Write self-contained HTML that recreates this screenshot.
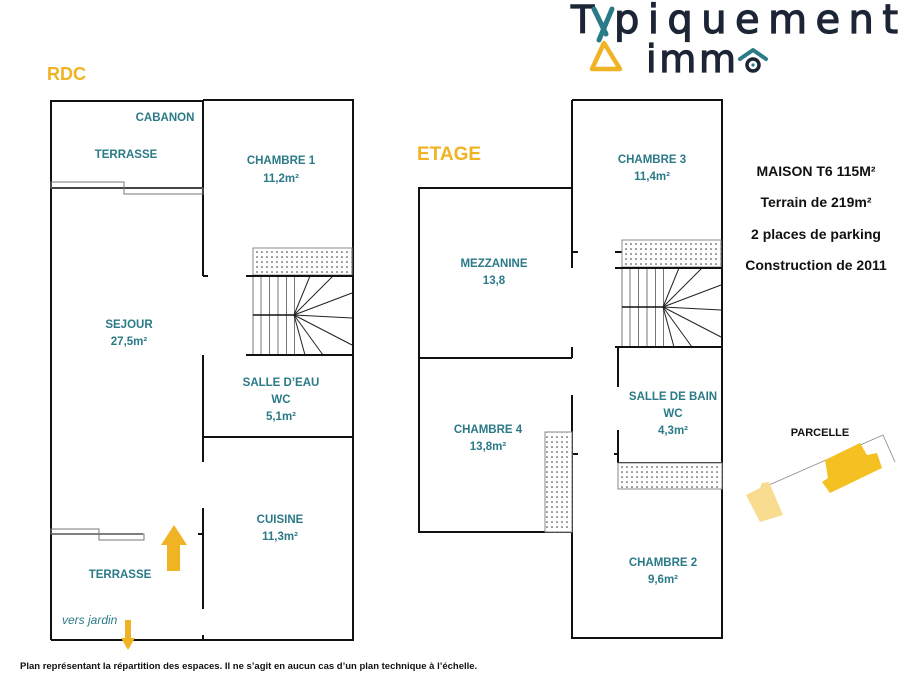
<!DOCTYPE html>
<html><head><meta charset="utf-8"><style>
html,body{margin:0;padding:0;background:#fff;}
svg{display:block;}
text{font-family:"Liberation Sans",sans-serif;}
.t{fill:#2b7a87;font-weight:bold;font-size:11.5px;text-anchor:middle;}
.k{fill:#111;font-weight:bold;font-size:14px;text-anchor:middle;}
.lg{font-family:"DejaVu Sans",sans-serif;fill:#1c2536;stroke:#1c2536;stroke-width:1.2;}
</style></head><body>
<svg width="902" height="678" viewBox="0 0 902 678" xmlns="http://www.w3.org/2000/svg">
<defs>
<pattern id="dots" width="5" height="5" patternUnits="userSpaceOnUse"><rect width="5" height="5" fill="#fff"/><circle cx="2" cy="2" r="0.8" fill="#333"/></pattern>
<g id="stairs">
<rect x="253" y="248" width="99" height="27" fill="url(#dots)" stroke="#888" stroke-width="1"/>
<g stroke="#777" stroke-width="1">
<line x1="253" y1="276" x2="253" y2="355"/><line x1="261" y1="276" x2="261" y2="355"/><line x1="269.5" y1="276" x2="269.5" y2="355"/><line x1="278" y1="276" x2="278" y2="355"/><line x1="286.5" y1="276" x2="286.5" y2="355"/><line x1="294.5" y1="276" x2="294.5" y2="355"/>
</g>
<g stroke="#222" stroke-width="1">
<line x1="294" y1="315" x2="310" y2="276"/><line x1="294" y1="315" x2="333" y2="276"/><line x1="294" y1="315" x2="352" y2="293"/><line x1="294" y1="315" x2="352" y2="318"/><line x1="294" y1="315" x2="352" y2="345"/><line x1="294" y1="315" x2="323" y2="355"/><line x1="294" y1="315" x2="305" y2="355"/>
</g>
<line x1="253" y1="315" x2="294" y2="315" stroke="#111" stroke-width="1.5"/>
<line x1="246" y1="276" x2="353" y2="276" stroke="#111" stroke-width="2"/>
<line x1="246" y1="355" x2="353" y2="355" stroke="#111" stroke-width="2"/>
</g>
</defs>

<!-- Logo -->
<text class="lg" x="571" y="33" font-size="38">T</text>
<text class="lg" x="614" y="33" font-size="40" textLength="284" lengthAdjust="spacing">piquement</text>
<line x1="594" y1="9" x2="606" y2="34" stroke="#2b7a87" stroke-width="5" stroke-linecap="round"/>
<line x1="612" y1="9" x2="599" y2="40" stroke="#2b7a87" stroke-width="5" stroke-linecap="round"/>
<polygon points="604,43 620,69 592,69" fill="none" stroke="#f0b323" stroke-width="4.5" stroke-linejoin="round"/>
<text class="lg" x="646" y="72" font-size="38" textLength="90" lengthAdjust="spacing">imm</text>
<polyline points="740,59 753,50 766,59" fill="none" stroke="#2b7a87" stroke-width="4" stroke-linecap="round" stroke-linejoin="round"/>
<circle cx="753" cy="65" r="6" fill="none" stroke="#1c2536" stroke-width="3.5"/>
<circle cx="753" cy="65" r="1.6" fill="#2b7a87"/>

<text x="47" y="80" font-size="18" font-weight="bold" fill="#f0b323">RDC</text>
<text x="417" y="160" font-size="19" font-weight="bold" fill="#f0b323">ETAGE</text>

<!-- RDC walls -->
<g stroke="#111" stroke-width="2" fill="none">
<polyline points="51,640 51,101 203,101"/>
<polyline points="203,100 353,100 353,640 51,640"/>
<line x1="203" y1="101" x2="203" y2="276"/>
<line x1="203" y1="355" x2="203" y2="462"/>
<line x1="203" y1="508" x2="203" y2="609"/>
<line x1="203" y1="635" x2="203" y2="640"/>
<line x1="203" y1="276" x2="208" y2="276"/>
<line x1="203" y1="437" x2="353" y2="437"/>
<line x1="51" y1="188" x2="203" y2="188"/>
<line x1="51" y1="534" x2="143" y2="534" stroke-width="1.5"/>
<line x1="198" y1="534" x2="203" y2="534"/>
</g>
<g stroke="#777" stroke-width="1" fill="none">
<rect x="51" y="182" width="73" height="6"/>
<rect x="124" y="188" width="79" height="6"/>
<rect x="51" y="529" width="48" height="5"/>
<rect x="99" y="534" width="45" height="6"/>
</g>
<use href="#stairs"/>

<!-- arrows -->
<polygon points="174,525 187,545 180,545 180,571 167,571 167,545 161,545" fill="#f0b323"/>
<polygon points="125,620 131,620 131,638 135,638 128,650 121,638 125,638" fill="#f0b323"/>

<!-- ETAGE walls -->
<g stroke="#111" stroke-width="2" fill="none">
<polyline points="572,100 722,100 722,638 572,638 572,395"/>
<line x1="572" y1="100" x2="572" y2="268"/>
<line x1="572" y1="347" x2="572" y2="358"/>
<polyline points="572,188 419,188 419,532 572,532"/>
<line x1="419" y1="358" x2="572" y2="358"/>
<line x1="572" y1="252" x2="578" y2="252"/>
<line x1="615" y1="252" x2="622" y2="252"/>
<line x1="572" y1="454" x2="578" y2="454"/>
<line x1="614" y1="454" x2="618" y2="454"/>
<line x1="618" y1="348" x2="618" y2="387"/>
<line x1="618" y1="430" x2="618" y2="463"/>
<line x1="618" y1="463" x2="722" y2="463"/>
</g>
<rect x="545" y="432" width="27" height="100" fill="url(#dots)" stroke="#888"/>
<rect x="618" y="463" width="104" height="26" fill="url(#dots)" stroke="#888"/>
<use href="#stairs" transform="translate(369,-8)"/>

<!-- Labels RDC -->
<text class="t" x="165" y="121">CABANON</text>
<text class="t" x="126" y="158">TERRASSE</text>
<text class="t" x="281" y="164">CHAMBRE 1</text>
<text class="t" x="281" y="182">11,2m²</text>
<text class="t" x="129" y="328">SEJOUR</text>
<text class="t" x="129" y="345">27,5m²</text>
<text class="t" x="281" y="386">SALLE D’EAU</text>
<text class="t" x="281" y="403">WC</text>
<text class="t" x="281" y="420">5,1m²</text>
<text class="t" x="280" y="523">CUISINE</text>
<text class="t" x="280" y="540">11,3m²</text>
<text class="t" x="120" y="578">TERRASSE</text>
<text x="62" y="624" font-size="12" font-style="italic" fill="#2b7a87">vers jardin</text>

<!-- Labels ETAGE -->
<text class="t" x="652" y="163">CHAMBRE 3</text>
<text class="t" x="652" y="180">11,4m²</text>
<text class="t" x="494" y="267">MEZZANINE</text>
<text class="t" x="494" y="284">13,8</text>
<text class="t" x="488" y="433">CHAMBRE 4</text>
<text class="t" x="488" y="450">13,8m²</text>
<text class="t" x="673" y="400">SALLE DE BAIN</text>
<text class="t" x="673" y="417">WC</text>
<text class="t" x="673" y="434">4,3m²</text>
<text class="t" x="663" y="566">CHAMBRE 2</text>
<text class="t" x="663" y="583">9,6m²</text>

<!-- right text -->
<text class="k" x="816" y="176">MAISON T6 115M²</text>
<text class="k" x="816" y="207">Terrain de 219m²</text>
<text class="k" x="816" y="239">2 places de parking</text>
<text class="k" x="816" y="270">Construction de 2011</text>

<!-- parcelle -->
<text x="820" y="436" font-size="11" font-weight="bold" fill="#111" text-anchor="middle">PARCELLE</text>
<polyline points="753,492 883,435 895,462" fill="none" stroke="#888" stroke-width="0.8"/>
<polygon points="825,460 860,443 867,455 877,453 882,468 830,493 822,482 828,478" fill="#f5c022"/>
<polygon points="746,495 760,488 762,483 769,482 783,515 760,522" fill="#f8dc90"/>

<text x="20" y="669" font-size="9.5" font-weight="bold" fill="#111">Plan représentant la répartition des espaces. Il ne s’agit en aucun cas d’un plan technique à l’échelle.</text>
</svg>
</body></html>
